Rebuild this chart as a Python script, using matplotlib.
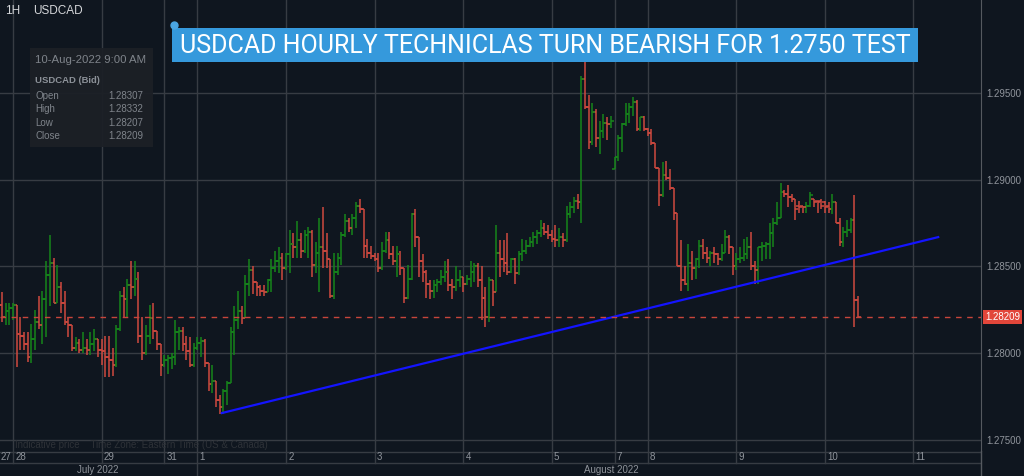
import matplotlib
matplotlib.use('Agg')
import matplotlib.pyplot as plt
import matplotlib.transforms as mtransforms
from matplotlib.patches import Rectangle
import numpy as np

W, H = 1024, 476
BG = '#0f161f'
GRID = '#373c43'
TXT = '#8f949b'
UP = '#16861b'
DOWN = '#d04a3f'

# hourly USDCAD bid bars (27-Jul-2022 .. 10-Aug-2022 9:00 AM)
opens = [
    1.2831, 1.2828, 1.2821, 1.2824, 1.2826, 1.2828, 1.2811, 1.2810, 1.2805, 1.2798,
    1.2808, 1.2818, 1.2816, 1.2831, 1.2845, 1.2852, 1.2829, 1.2838, 1.2829, 1.2818,
    1.2816, 1.2803, 1.2806, 1.2802, 1.2803, 1.2802, 1.2805, 1.2808, 1.2802, 1.2801,
    1.2798, 1.2796, 1.2793, 1.2814, 1.2833, 1.2831, 1.2839, 1.2838, 1.2843, 1.2810,
    1.2800, 1.2810, 1.2820, 1.2813, 1.2805, 1.2793, 1.2796, 1.2797, 1.2798, 1.2812,
    1.2813, 1.2805, 1.2801, 1.2793, 1.2803, 1.2806, 1.2807, 1.2794, 1.2782, 1.2784,
    1.2773, 1.2769, 1.2778, 1.2783, 1.2812, 1.2819, 1.2824, 1.2820, 1.2840, 1.2848,
    1.2841, 1.2838, 1.2836, 1.2835, 1.2842, 1.2849, 1.2853, 1.2855, 1.2849, 1.2857,
    1.2863, 1.2861, 1.2865, 1.2859, 1.2868, 1.2870, 1.2851, 1.2858, 1.2861, 1.2859,
    1.2854, 1.2833, 1.2847, 1.2855, 1.2868, 1.2876, 1.2872, 1.2878, 1.2885, 1.2883,
    1.2862, 1.2858, 1.2856, 1.2854, 1.2849, 1.2859, 1.2865, 1.2857, 1.2853, 1.2857,
    1.2849, 1.2832, 1.2843, 1.2880, 1.2867, 1.2853, 1.2847, 1.2840, 1.2836, 1.2839,
    1.2841, 1.2844, 1.2847, 1.2839, 1.2838, 1.2842, 1.2844, 1.2840, 1.2843, 1.2847,
    1.2850, 1.2842, 1.2832, 1.2821, 1.2842, 1.2835, 1.2858, 1.2854, 1.2852, 1.2847,
    1.2854, 1.2846, 1.2857, 1.2859, 1.2862, 1.2864, 1.2867, 1.2869, 1.2872, 1.2870,
    1.2868, 1.2866, 1.2865, 1.2867, 1.2865, 1.2880, 1.2884, 1.2888, 1.2887, 1.2958,
    1.2942, 1.2922, 1.2939, 1.2924, 1.2928, 1.2933, 1.2932, 1.2906, 1.2913, 1.2924,
    1.2932, 1.2938, 1.2942, 1.2945, 1.2929, 1.2936, 1.2929, 1.2927, 1.2921, 1.2907,
    1.2891, 1.2903, 1.2901, 1.2895, 1.2881, 1.2850, 1.2842, 1.2840, 1.2852, 1.2849,
    1.2854, 1.2862, 1.2858, 1.2855, 1.2858, 1.2857, 1.2854, 1.2858, 1.2867, 1.2861,
    1.2850, 1.2854, 1.2855, 1.2857, 1.2861, 1.2850, 1.2848, 1.2861, 1.2862, 1.2863,
    1.2869, 1.2875, 1.2878, 1.2893, 1.2892, 1.2890, 1.2889, 1.2885, 1.2885, 1.2884,
    1.2885, 1.2889, 1.2888, 1.2888, 1.2887, 1.2885, 1.2883, 1.2887, 1.2875, 1.2864,
    1.2870, 1.2871, 1.2877, 1.28307,
]
highs = [
    1.2836, 1.2835, 1.2829, 1.2829, 1.2829, 1.2828, 1.2821, 1.2812, 1.2812, 1.2817,
    1.2825, 1.2833, 1.2836, 1.2853, 1.2868, 1.2855, 1.2851, 1.2841, 1.2836, 1.2821,
    1.2816, 1.2809, 1.2808, 1.2812, 1.2808, 1.2812, 1.2814, 1.2808, 1.2808, 1.2810,
    1.2810, 1.2803, 1.2816, 1.2836, 1.2838, 1.2843, 1.2853, 1.2853, 1.2847, 1.2821,
    1.2816, 1.2828, 1.2829, 1.2813, 1.2805, 1.2799, 1.2799, 1.2800, 1.2819, 1.2815,
    1.2815, 1.2810, 1.2809, 1.2806, 1.2809, 1.2809, 1.2808, 1.2794, 1.2793, 1.2784,
    1.2776, 1.2779, 1.2784, 1.2815, 1.2827, 1.2836, 1.2827, 1.2845, 1.2854, 1.2850,
    1.2841, 1.2839, 1.2839, 1.2843, 1.2854, 1.2859, 1.2861, 1.2858, 1.2858, 1.2871,
    1.2869, 1.2876, 1.2869, 1.2871, 1.2873, 1.2871, 1.2864, 1.2878, 1.2884, 1.2869,
    1.2854, 1.2858, 1.2858, 1.2870, 1.2880, 1.2878, 1.2880, 1.2887, 1.2889, 1.2883,
    1.2866, 1.2862, 1.2858, 1.2858, 1.2864, 1.2870, 1.2870, 1.2862, 1.2862, 1.2859,
    1.2849, 1.2851, 1.2881, 1.2883, 1.2867, 1.2857, 1.2848, 1.2842, 1.2842, 1.2843,
    1.2848, 1.2853, 1.2854, 1.2843, 1.2850, 1.2848, 1.2844, 1.2845, 1.2853, 1.2852,
    1.2852, 1.2850, 1.2838, 1.2844, 1.2842, 1.2874, 1.2865, 1.2865, 1.2869, 1.2855,
    1.2855, 1.2859, 1.2866, 1.2865, 1.2867, 1.2870, 1.2871, 1.2877, 1.2875, 1.2874,
    1.2871, 1.2874, 1.2872, 1.2869, 1.2885, 1.2887, 1.2890, 1.2892, 1.2960, 1.2969,
    1.2949, 1.2944, 1.2941, 1.2934, 1.2938, 1.2936, 1.2937, 1.2913, 1.2926, 1.2933,
    1.2944, 1.2944, 1.2948, 1.2946, 1.2936, 1.2937, 1.2930, 1.2929, 1.2921, 1.2907,
    1.2910, 1.2911, 1.2906, 1.2895, 1.2881, 1.2865, 1.2850, 1.2863, 1.2859, 1.2855,
    1.2865, 1.2866, 1.2861, 1.2859, 1.2861, 1.2858, 1.2863, 1.2871, 1.2868, 1.2861,
    1.2858, 1.2861, 1.2866, 1.2867, 1.2870, 1.2853, 1.2861, 1.2864, 1.2864, 1.2875,
    1.2878, 1.2887, 1.2898, 1.2894, 1.2897, 1.2892, 1.2889, 1.2888, 1.2885, 1.2887,
    1.2893, 1.2889, 1.2888, 1.2889, 1.2888, 1.2887, 1.2892, 1.2887, 1.2878, 1.2873,
    1.2877, 1.2878, 1.2891, 1.28332,
]
lows = [
    1.2818, 1.2818, 1.2816, 1.2816, 1.2819, 1.2792, 1.2802, 1.2802, 1.2795, 1.2794,
    1.2802, 1.2814, 1.2805, 1.2809, 1.2827, 1.2829, 1.2829, 1.2823, 1.2816, 1.2809,
    1.2801, 1.2801, 1.2800, 1.2800, 1.2799, 1.2799, 1.2801, 1.2798, 1.2793, 1.2786,
    1.2786, 1.2787, 1.2792, 1.2813, 1.2821, 1.2821, 1.2831, 1.2833, 1.2806, 1.2796,
    1.2799, 1.2805, 1.2808, 1.2802, 1.2787, 1.2792, 1.2788, 1.2791, 1.2793, 1.2802,
    1.2801, 1.2796, 1.2792, 1.2792, 1.2802, 1.2798, 1.2792, 1.2778, 1.2777, 1.2769,
    1.2765, 1.2765, 1.2770, 1.2783, 1.2799, 1.2814, 1.2817, 1.2820, 1.2833, 1.2834,
    1.2833, 1.2833, 1.2833, 1.2835, 1.2835, 1.2847, 1.2846, 1.2842, 1.2848, 1.2846,
    1.2855, 1.2855, 1.2855, 1.2858, 1.2855, 1.2844, 1.2846, 1.2835, 1.2849, 1.2849,
    1.2832, 1.2831, 1.2845, 1.2851, 1.2867, 1.2870, 1.2868, 1.2872, 1.2881, 1.2855,
    1.2855, 1.2854, 1.2853, 1.2847, 1.2848, 1.2858, 1.2854, 1.2851, 1.2844, 1.2845,
    1.2829, 1.2831, 1.2842, 1.2861, 1.2844, 1.2841, 1.2832, 1.2831, 1.2832, 1.2835,
    1.2839, 1.2841, 1.2836, 1.2831, 1.2836, 1.2838, 1.2835, 1.2839, 1.2838, 1.2841,
    1.2838, 1.2819, 1.2815, 1.2818, 1.2827, 1.2835, 1.2844, 1.2847, 1.2845, 1.2846,
    1.2840, 1.2845, 1.2853, 1.2857, 1.2861, 1.2861, 1.2863, 1.2867, 1.2868, 1.2866,
    1.2864, 1.2861, 1.2861, 1.2861, 1.2864, 1.2878, 1.2881, 1.2883, 1.2875, 1.2941,
    1.2918, 1.2920, 1.2919, 1.2915, 1.2924, 1.2923, 1.2930, 1.2906, 1.2911, 1.2916,
    1.2931, 1.2933, 1.2937, 1.2928, 1.2928, 1.2928, 1.2925, 1.2920, 1.2907, 1.2885,
    1.2890, 1.2900, 1.2894, 1.2877, 1.2850, 1.2836, 1.2839, 1.2836, 1.2842, 1.2843,
    1.2849, 1.2854, 1.2852, 1.2850, 1.2852, 1.2851, 1.2853, 1.2858, 1.2857, 1.2845,
    1.2848, 1.2852, 1.2853, 1.2854, 1.2848, 1.2840, 1.2840, 1.2853, 1.2854, 1.2854,
    1.2861, 1.2874, 1.2878, 1.2890, 1.2884, 1.2887, 1.2877, 1.2881, 1.2881, 1.2881,
    1.2884, 1.2884, 1.2881, 1.2883, 1.2881, 1.2881, 1.2880, 1.2875, 1.2862, 1.2861,
    1.2867, 1.2869, 1.2815, 1.28207,
]
closes = [
    1.2828, 1.2821, 1.2824, 1.2826, 1.2828, 1.2811, 1.2810, 1.2805, 1.2798, 1.2808,
    1.2818, 1.2816, 1.2831, 1.2845, 1.2852, 1.2829, 1.2838, 1.2829, 1.2818, 1.2816,
    1.2803, 1.2806, 1.2802, 1.2803, 1.2802, 1.2805, 1.2808, 1.2802, 1.2801, 1.2798,
    1.2796, 1.2793, 1.2814, 1.2833, 1.2831, 1.2839, 1.2838, 1.2843, 1.2810, 1.2800,
    1.2810, 1.2820, 1.2813, 1.2805, 1.2793, 1.2796, 1.2797, 1.2798, 1.2812, 1.2813,
    1.2805, 1.2801, 1.2793, 1.2803, 1.2806, 1.2807, 1.2794, 1.2782, 1.2784, 1.2773,
    1.2769, 1.2778, 1.2783, 1.2812, 1.2819, 1.2824, 1.2820, 1.2840, 1.2848, 1.2841,
    1.2838, 1.2836, 1.2835, 1.2842, 1.2849, 1.2853, 1.2855, 1.2849, 1.2857, 1.2863,
    1.2861, 1.2865, 1.2859, 1.2868, 1.2870, 1.2851, 1.2858, 1.2861, 1.2859, 1.2854,
    1.2833, 1.2847, 1.2855, 1.2868, 1.2876, 1.2872, 1.2878, 1.2885, 1.2883, 1.2862,
    1.2858, 1.2856, 1.2854, 1.2849, 1.2859, 1.2865, 1.2857, 1.2853, 1.2857, 1.2849,
    1.2832, 1.2843, 1.2880, 1.2867, 1.2853, 1.2847, 1.2840, 1.2836, 1.2839, 1.2841,
    1.2844, 1.2847, 1.2839, 1.2838, 1.2842, 1.2844, 1.2840, 1.2843, 1.2847, 1.2850,
    1.2842, 1.2832, 1.2821, 1.2842, 1.2835, 1.2858, 1.2854, 1.2852, 1.2847, 1.2854,
    1.2846, 1.2857, 1.2859, 1.2862, 1.2864, 1.2867, 1.2869, 1.2872, 1.2870, 1.2868,
    1.2866, 1.2865, 1.2867, 1.2865, 1.2880, 1.2884, 1.2888, 1.2887, 1.2958, 1.2942,
    1.2922, 1.2939, 1.2924, 1.2928, 1.2933, 1.2932, 1.2934, 1.2913, 1.2924, 1.2932,
    1.2938, 1.2942, 1.2945, 1.2929, 1.2936, 1.2929, 1.2927, 1.2921, 1.2907, 1.2891,
    1.2903, 1.2901, 1.2895, 1.2881, 1.2850, 1.2842, 1.2840, 1.2852, 1.2849, 1.2854,
    1.2862, 1.2858, 1.2855, 1.2858, 1.2857, 1.2854, 1.2858, 1.2867, 1.2861, 1.2850,
    1.2854, 1.2855, 1.2857, 1.2861, 1.2850, 1.2848, 1.2861, 1.2862, 1.2863, 1.2869,
    1.2875, 1.2878, 1.2893, 1.2892, 1.2890, 1.2889, 1.2883, 1.2884, 1.2884, 1.2885,
    1.2891, 1.2887, 1.2887, 1.2885, 1.2884, 1.2883, 1.2887, 1.2875, 1.2864, 1.2870,
    1.2871, 1.2877, 1.28307, 1.28209,
]

# day boundaries on the hour axis (weekend hours are skipped)
day_pos = [4, 28, 45, 54, 78, 102, 126, 150, 167, 176, 200, 224, 248]
day_labels = ['28', '29', '31', '1', '2', '3', '4', '5', '7', '8', '9', '10', '11']
month_pos = [27, 166]
month_labels = ['July 2022', 'August 2022']
month_break = 54

price_ticks = [1.275, 1.280, 1.285, 1.290, 1.295]
trend_x = [60.6, 254.7]
trend_y = [1.27654, 1.28669]
last_price = 1.28209

tip_date = '10-Aug-2022 9:00 AM'
tip_names = ['Open', 'High', 'Low', 'Close']
tip_values = ['1.28307', '1.28332', '1.28207', '1.28209']

title = 'USDCAD HOURLY TECHNICLAS TURN BEARISH FOR 1.2750 TEST'

X_LIM = (0.49, 266.3)
Y_LIM = (1.27435, 1.30037)
UI_FONT = ['Liberation Sans', 'DejaVu Sans']


def fpos(x, y):
    """ pixel position (from top left) -> figure fraction """
    return x / W, 1 - y / H


def draw_bars(ax):
    o, h, l, c = map(np.array, (opens, highs, lows, closes))
    x = np.arange(len(c))
    cols = np.where(c >= o, UP, DOWN)
    ax.vlines(x, l, h, colors=cols, lw=1.1)
    ax.hlines(o, x - 0.75, x, colors=cols, lw=1.1)
    ax.hlines(c, x, x + 0.75, colors=cols, lw=1.1)


def main():
    plt.rcParams['font.family'] = UI_FONT
    fig = plt.figure(figsize=(W / 100, H / 100), dpi=100, facecolor=BG)

    # main price panel
    ax = fig.add_axes([0, 25 / H, 981 / W, 451 / H], facecolor=BG)
    ax.set_xlim(*X_LIM)
    ax.set_ylim(*Y_LIM)
    ax.set_xticks(day_pos)
    ax.set_yticks(price_ticks)
    ax.set_yticklabels(['%.5f' % p for p in price_ticks])
    ax.yaxis.tick_right()
    ax.tick_params(axis='x', length=0, labelbottom=False)
    ax.tick_params(axis='y', length=0, pad=4, labelcolor=TXT, labelsize=7)
    ax.grid(True, color=GRID, lw=1)
    ax.set_axisbelow(True)
    for s in ['top', 'left', 'bottom']:
        ax.spines[s].set_visible(False)
    ax.spines['right'].set_color('#55595f')

    draw_bars(ax)
    ax.plot(trend_x, trend_y, color='#1414ff', lw=1.6)
    ax.axhline(last_price, color='#c8453b', lw=1, ls=(0, (4, 4)))

    trans = mtransforms.blended_transform_factory(ax.transAxes, ax.transData)
    ax.text(1.004, last_price, '%.5f' % last_price, transform=trans,
            color='white', fontsize=7, va='center', ha='left',
            bbox=dict(boxstyle='square,pad=0.22', fc='#e2463a', ec='none'))

    ax.text(15 / 981, 1.27435 + 0.00035, 'Indicative price    Time Zone: Eastern Time (US & Canada)',
            transform=trans, color='#2e3238', fontsize=7, va='center')

    # date strip
    bx = fig.add_axes([0, 0, 981 / W, 25 / H], facecolor=BG)
    bx.set_xlim(*X_LIM)
    bx.set_ylim(25, 0)
    bx.axis('off')
    bx.axhline(0.5, color=GRID, lw=1)
    bx.axhline(12, color=GRID, lw=1)
    for p, lab in zip(day_pos, day_labels):
        bx.plot([p, p], [0, 12], color=GRID, lw=1)
        bx.text(p + 0.6, 6.5, lab, color=TXT, fontsize=7, va='center', ha='left')
    bx.text(X_LIM[0] + 0.2, 6.5, '27', color=TXT, fontsize=7, va='center', ha='left')
    bx.plot([month_break, month_break], [12, 25], color=GRID, lw=1)
    for p, lab in zip(month_pos, month_labels):
        bx.text(p, 19, lab, color=TXT, fontsize=7, va='center', ha='center')
    fig.add_artist(plt.Line2D([981 / W, 981 / W], [0, 25 / H], color='#55595f', lw=1))

    # header
    fig.text(*fpos(5, 11), '1H', color='#d5d7da', fontsize=8.5, va='center')
    fig.text(*fpos(33, 11), 'USDCAD', color='#d5d7da', fontsize=8.5, va='center')

    # tooltip box
    fig.add_artist(Rectangle(fpos(30, 147), 123 / W, 99 / H, transform=fig.transFigure,
                             fc='#1c2026', ec='none', alpha=0.95))
    fig.text(*fpos(35, 60), tip_date, color='#7f848b', fontsize=8.2, va='center')
    fig.text(*fpos(35, 80), 'USDCAD (Bid)', color='#8d9299', fontsize=6.8,
             fontweight='bold', va='center')
    for i, (n, v) in enumerate(zip(tip_names, tip_values)):
        yy = 96 + i * 13.3
        fig.text(*fpos(35, yy), n, color='#7f848b', fontsize=7, va='center')
        fig.text(*fpos(143, yy), v, color='#7f848b', fontsize=7, va='center', ha='right')

    # title banner
    fig.add_artist(Rectangle(fpos(172, 62), 746 / W, 34 / H, transform=fig.transFigure,
                             fc='#3599dc', ec='none'))
    fig.text(*fpos(545, 46), title, color='white', fontsize=18, family='Roboto',
             va='center', ha='center')
    fig.add_artist(plt.Line2D([174 / W], [1 - 25 / H], marker='o', ms=5,
                              color='#4aa6e3', transform=fig.transFigure))

    fig.savefig('out.png', dpi=100, facecolor=BG)


if __name__ == '__main__':
    main()
